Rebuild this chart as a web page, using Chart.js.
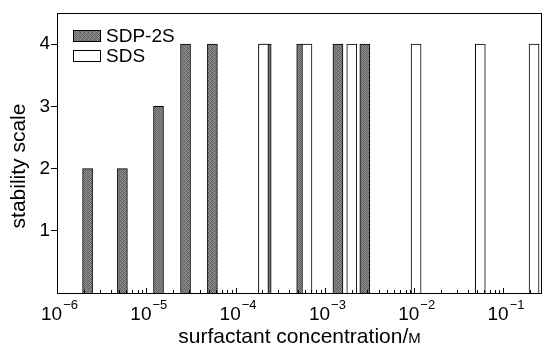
<!DOCTYPE html>
<html>
<head>
<meta charset="utf-8">
<script src="https://cdn.jsdelivr.net/npm/chart.js@4/dist/chart.umd.min.js"></script>
<style>
  body { margin: 0; background: #fff; }
  canvas { display: block; }
</style>
</head>
<body>
<canvas id="myChart" width="543" height="345"></canvas>
<script>
// values
const sdpConc = [2.2e-6, 5.4e-6, 1.37e-5, 2.75e-5, 5.5e-5, 2.2e-4, 5.5e-4, 1.4e-3, 2.8e-3];
const sdpScale = [2, 2, 3, 4, 4, 4, 4, 4, 4];
const sdsConc = [2.05e-4, 6.3e-4, 2.0e-3, 1.05e-2, 5.5e-2, 0.22];
const sdsScale = [4, 4, 4, 4, 4, 4];
const seriesNames = ['SDP-2S', 'SDS'];
const yTicks = [1, 2, 3, 4];
const xDecades = [-6, -5, -4, -3, -2, -1];

const canvas = document.getElementById('myChart');
const ctx = canvas.getContext('2d');
const FONT = '"Liberation Sans", Arial, Helvetica, sans-serif';

// stippled grey fill
function makeStipple() {
    const pc = document.createElement('canvas');
    pc.width = 4; pc.height = 4;
    const pctx = pc.getContext('2d');
    const shades = [
        [0x58, 0x90, 0x70, 0x84],
        [0x88, 0x64, 0x98, 0x5c],
        [0x6c, 0x8c, 0x60, 0x90],
        [0x94, 0x68, 0x84, 0x64]
    ];
    for (let r = 0; r < 4; r++) {
        for (let c = 0; c < 4; c++) {
            const g = shades[r][c];
            pctx.fillStyle = 'rgb(' + g + ',' + g + ',' + g + ')';
            pctx.fillRect(c, r, 1, 1);
        }
    }
    return ctx.createPattern(pc, 'repeat');
}
const stipple = makeStipple();

function toPoints(xs, ys) {
    return xs.map((x, i) => ({ x: x, y: ys[i] }));
}

const decorPlugin = {
    id: 'decor',
    afterDraw(chart) {
        const c = chart.ctx;
        const a = chart.chartArea;
        const xs = chart.scales.x;
        c.save();
        // frame
        c.strokeStyle = '#000';
        c.lineWidth = 1;
        c.strokeRect(Math.round(a.left) + 0.5, Math.round(a.top) + 0.5,
            Math.round(a.right - a.left) - 1, Math.round(a.bottom - a.top));

        // x ticks, pointing inward
        c.beginPath();
        xDecades.forEach(d => {
            for (let m = 1; m <= 9; m++) {
                const v = m * Math.pow(10, d);
                const px = Math.round(xs.getPixelForValue(v)) + 0.5;
                if (px < a.left || px > a.right) continue;
                const len = m === 1 ? 5 : 3;
                c.moveTo(px, a.bottom);
                c.lineTo(px, a.bottom - len);
            }
        });
        c.stroke();

        // x tick labels 10^d
        c.fillStyle = '#000';
        c.textBaseline = 'alphabetic';
        c.textAlign = 'left';
        xDecades.forEach(d => {
            const px = xs.getPixelForValue(Math.pow(10, d));
            const sup = '\u2212' + Math.abs(d);
            c.font = '19px ' + FONT;
            const w1 = c.measureText('10').width;
            c.font = '13px ' + FONT;
            const w2 = c.measureText(sup).width;
            const x0 = px - (w1 + w2) / 2 + 2;
            c.font = '19px ' + FONT;
            c.fillText('10', x0, 320);
            c.font = '13px ' + FONT;
            c.fillText(sup, x0 + w1 + 1, 309);
        });

        // x title
        const t1 = 'surfactant concentration/';
        const t2 = 'M';
        c.font = '21px ' + FONT;
        const tw1 = c.measureText(t1).width;
        c.font = '15px ' + FONT;
        const tw2 = c.measureText(t2).width;
        const cx = (a.left + a.right) / 2;
        const tx = cx - (tw1 + tw2) / 2;
        c.font = '21px ' + FONT;
        c.fillText(t1, tx, 343);
        c.font = '15px ' + FONT;
        c.fillText(t2, tx + tw1, 343);

        // y title
        c.save();
        c.translate(25, 166);
        c.rotate(-Math.PI / 2);
        c.textAlign = 'center';
        c.font = '21px ' + FONT;
        c.fillText('stability scale', 0, 0);
        c.restore();

        // legend
        const fills = [stipple, '#fff'];
        seriesNames.forEach((name, i) => {
            const y = 30 + i * 20;
            c.fillStyle = fills[i];
            c.fillRect(73, y, 28, 12);
            c.strokeStyle = '#000';
            c.strokeRect(73.5, y + 0.5, 27, 11);
            c.fillStyle = '#000';
            c.font = '19px ' + FONT;
            c.textBaseline = 'middle';
            c.fillText(name, 106, y + 7);
        });
        c.restore();
    }
};

new Chart(ctx, {
    type: 'bar',
    data: {
        datasets: [{
            label: seriesNames[0],
            data: toPoints(sdpConc, sdpScale),
            backgroundColor: stipple,
            borderColor: '#000',
            borderWidth: 1,
            barThickness: 10,
            grouped: false,
            order: 1
        }, {
            label: seriesNames[1],
            data: toPoints(sdsConc, sdsScale),
            backgroundColor: '#fff',
            borderColor: '#000',
            borderWidth: 1,
            barThickness: 10,
            grouped: false,
            order: 0
        }]
    },
    options: {
        responsive: false,
        animation: false,
        layout: { padding: { top: 13, right: 1, left: 0, bottom: 0 } },
        plugins: {
            legend: { display: false },
            tooltip: { enabled: false }
        },
        scales: {
            x: {
                type: 'logarithmic',
                min: 1e-6,
                max: 0.27,
                grid: { display: false },
                border: { display: false },
                ticks: { display: false },
                afterFit: s => { s.height = 52; }
            },
            y: {
                min: 0,
                max: 4.5,
                afterBuildTicks: s => { s.ticks = yTicks.map(v => ({ value: v })); },
                grid: {
                    display: true,
                    drawOnChartArea: false,
                    drawTicks: true,
                    tickLength: 6,
                    color: '#000'
                },
                border: { display: false },
                ticks: {
                    color: '#000',
                    padding: 1,
                    font: { size: 19, family: FONT }
                },
                afterFit: s => { s.width = 57; }
            }
        }
    },
    plugins: [decorPlugin]
});
</script>
</body>
</html>
